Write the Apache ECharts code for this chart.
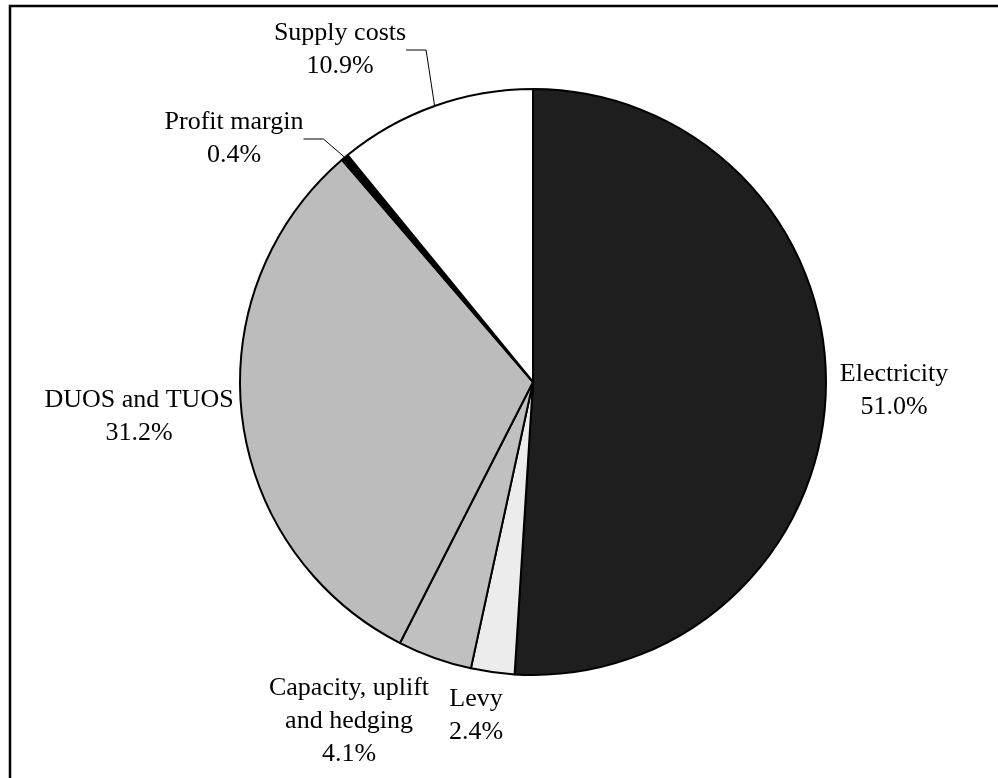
<!DOCTYPE html>
<html>
<head>
<meta charset="utf-8">
<script src="https://cdn.jsdelivr.net/npm/echarts@6/dist/echarts.min.js"></script>
<style>
  html, body { margin: 0; padding: 0; background: #fff; }
  #chart { width: 998px; height: 778px; }
</style>
</head>
<body>
<div id="chart"></div>
<script>
// Cost components, clockwise from 12 o'clock
const categories = ['Electricity', 'Levy', 'Capacity, uplift and hedging', 'DUOS and TUOS', 'Profit margin', 'Supply costs'];
const labelText = ['Electricity', 'Levy', 'Capacity, uplift\nand hedging', 'DUOS and TUOS', 'Profit margin', 'Supply costs'];
const shares = [51.0, 2.4, 4.1, 31.2, 0.4, 10.9];
const fills = ['#1e1e1e', '#ececec', '#c0c0c0', '#bcbcbc', '#000000', '#ffffff'];
const leaderShown = [false, false, false, false, true, true];

// label anchor points (centre of each text block)
const labelAnchor = [
  [894, 391], [476, 716], [349, 721], [139, 417], [234, 139], [340, 50]
];

const chart = echarts.init(document.getElementById('chart'), null, { renderer: 'canvas' });

const data = categories.map((name, i) => ({
  name: name,
  value: shares[i],
  itemStyle: { color: fills[i] },
  labelLine: { show: leaderShown[i] }
}));

chart.setOption({
  animation: false,
  backgroundColor: '#ffffff',
  graphic: [{
    type: 'rect',
    shape: { x: 10, y: 6, width: 1000, height: 800 },
    style: { fill: 'none', stroke: '#000', lineWidth: 2.5 },
    silent: true
  }],
  series: [{
    type: 'pie',
    center: [533, 382],
    radius: 293,
    startAngle: 90,
    clockwise: true,
    data: data,
    itemStyle: { borderColor: '#000', borderWidth: 2 },
    emphasis: { disabled: true },
    label: {
      show: true,
      position: 'outside',
      fontFamily: 'Liberation Serif',
      fontSize: 26,
      lineHeight: 33,
      color: '#000',
      align: 'center',
      formatter: p => labelText[p.dataIndex] + '\n' + p.value.toFixed(1) + '%'
    },
    labelLine: {
      length: 20,
      length2: 20,
      lineStyle: { color: '#000', width: 1 }
    },
    labelLayout: p => ({
      x: labelAnchor[p.dataIndex][0],
      y: labelAnchor[p.dataIndex][1],
      align: 'center',
      verticalAlign: 'middle'
    })
  }]
});
</script>
</body>
</html>
